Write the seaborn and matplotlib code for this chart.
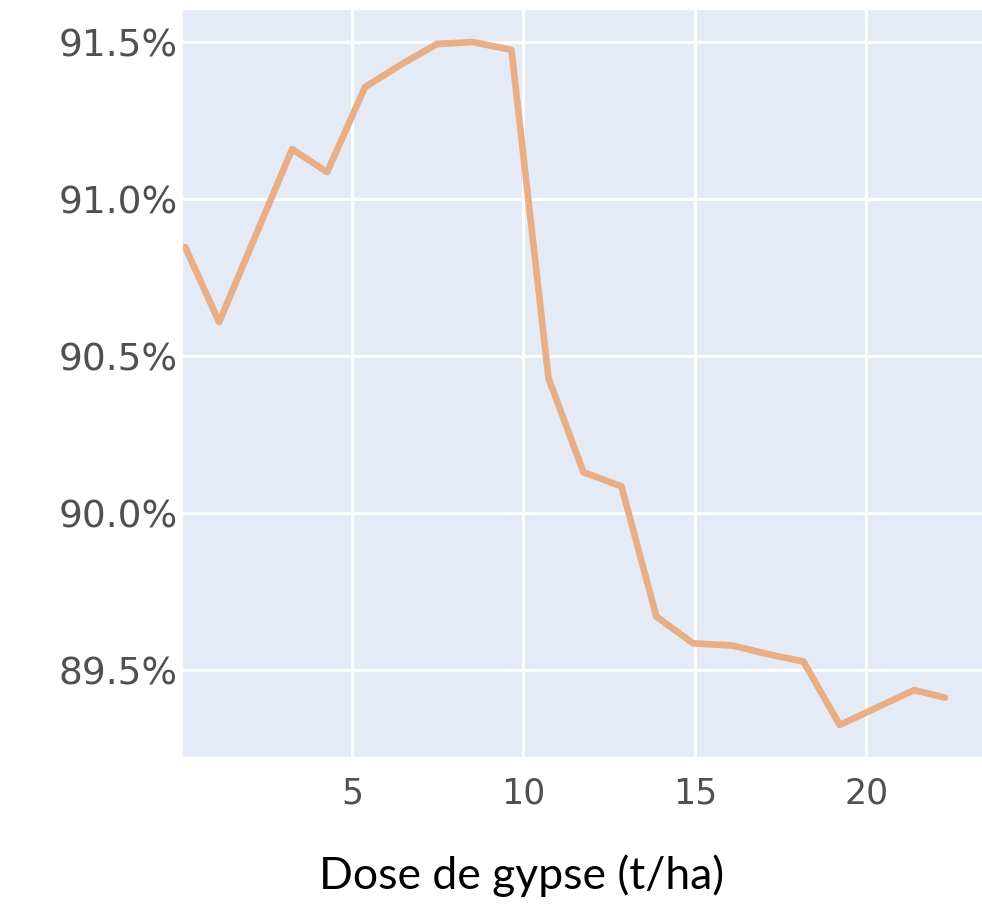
import numpy as np
import pandas as pd
import matplotlib
matplotlib.use("Agg")
import matplotlib.pyplot as plt
import seaborn as sns
from matplotlib.ticker import FuncFormatter

# ── Data ──────────────────────────────────────────────────────
dose = [0.13, 1.12, 2.17, 3.25, 4.27, 5.38, 6.45, 7.48, 8.53, 9.65,
        10.73, 11.75, 12.86, 13.88, 14.95, 16.1, 17.15, 18.17, 19.23,
        20.3, 21.4, 22.3]
rate = [90.847, 90.608, 90.88, 91.159, 91.086, 91.357, 91.43, 91.494,
        91.50, 91.475, 90.43, 90.13, 90.085, 89.67, 89.585, 89.578,
        89.55, 89.527, 89.325, 89.38, 89.436, 89.412]
x_ticks = [5, 10, 15, 20]
y_ticks = [89.5, 90.0, 90.5, 91.0, 91.5]

df = pd.DataFrame({"dose": dose, "rate": rate})

# ── Plot ──────────────────────────────────────────────────────
sns.set_theme(style="darkgrid", rc={
    "axes.facecolor": "#E5EBF6",
    "grid.color": "white",
    "grid.linewidth": 2.2,
    "axes.edgecolor": "none",
})
plt.rcParams["font.family"] = ["DejaVu Sans"]

fig = plt.figure(figsize=(9.82, 9.15), dpi=100)
ax = fig.add_axes([0.1864, 0.1727, 0.8136, 0.8163])

sns.lineplot(data=df, x="dose", y="rate", ax=ax,
             color="#E8AF86", linewidth=4.8)

ax.set_xlim(0.067, 23.38)
ax.set_ylim(89.223, 91.602)
ax.set_xticks(x_ticks)
ax.set_yticks(y_ticks)
ax.yaxis.set_major_formatter(FuncFormatter(lambda v, _: f"{v:.1f}%"))

ax.tick_params(axis="y", labelsize=27, labelcolor="#505050", pad=4, length=0)
ax.tick_params(axis="x", labelsize=25, labelcolor="#505050", pad=14, length=0)

ax.set_ylabel("")
ax.set_xlabel("Dose de gypse (t/ha)", fontsize=32, family="Lato",
              color="black")
ax.xaxis.set_label_coords(0.424, -0.13)

fig.savefig("out.png", dpi=100)
